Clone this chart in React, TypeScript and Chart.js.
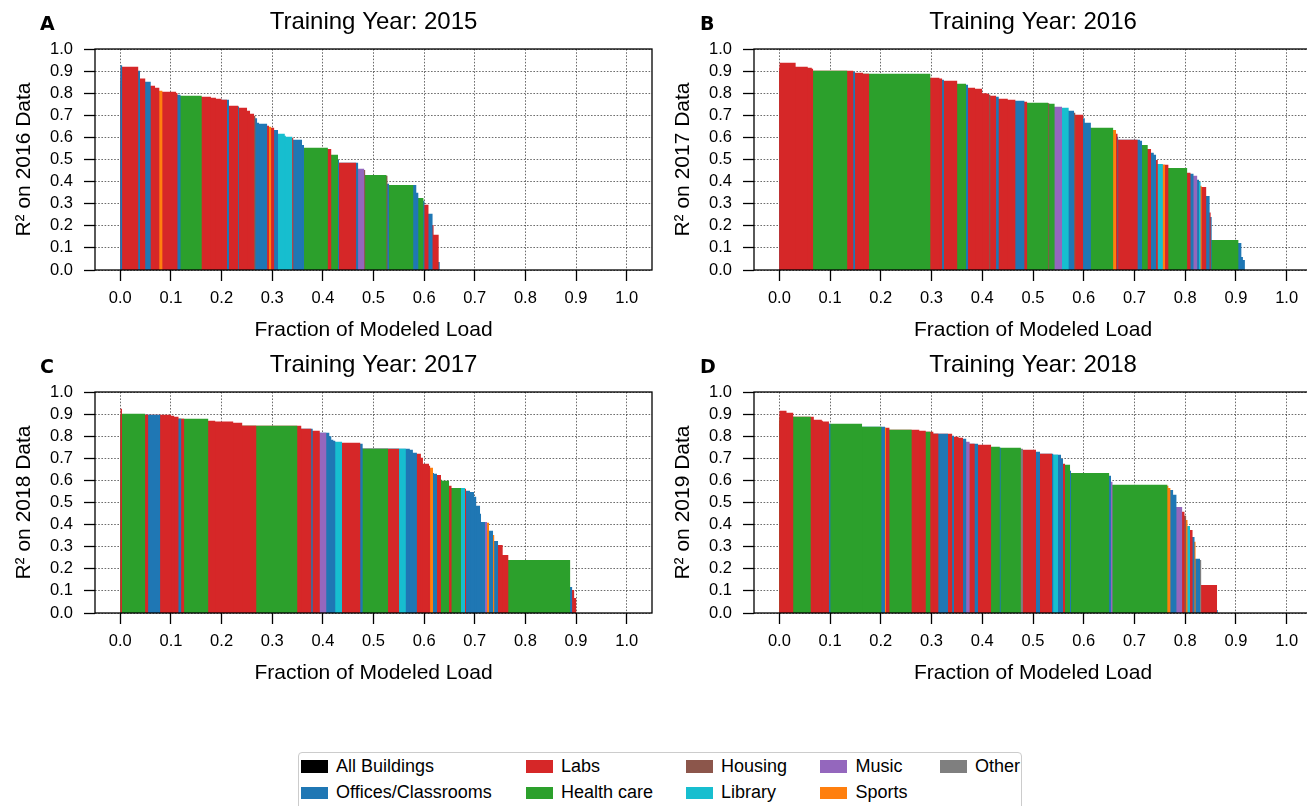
import React, { useEffect, useRef } from "react";
import { Chart, registerables } from "chart.js";

Chart.register(...registerables);

// ---------------- data ----------------
const categoryNames: Record<string, string> = {
  All: "All Buildings",
  O: "Offices/Classrooms",
  L: "Labs",
  H: "Health care",
  Ho: "Housing",
  Li: "Library",
  M: "Music",
  S: "Sports",
  Ot: "Other",
};
const categoryColors: Record<string, string> = {
  All: "#000000",
  O: "#1f77b4",
  L: "#d62728",
  H: "#2ca02c",
  Ho: "#8c564b",
  Li: "#17becf",
  M: "#9467bd",
  S: "#ff7f0e",
  Ot: "#7f7f7f",
};
// legend order (column-major, 2 rows)
const legendColumns = [["All", "O"], ["L", "H"], ["Ho", "Li"], ["M", "S"], ["Ot"]];

const xTickValues = [0, 0.1, 0.2, 0.3, 0.4, 0.5, 0.6, 0.7, 0.8, 0.9, 1.0];
const yTickValues = [0, 0.1, 0.2, 0.3, 0.4, 0.5, 0.6, 0.7, 0.8, 0.9, 1.0];

// Buildings sorted by R²; "end" = cumulative fraction of modeled load up to and including the building
// Panel A: training 2015, tested on 2016
const endA = [0.0013, 0.004, 0.0358, 0.0391, 0.0497, 0.0603, 0.0689, 0.0775, 0.0835, 0.1107, 0.1133, 0.1193, 0.161, 0.179, 0.1889, 0.2001, 0.2107, 0.2147, 0.2333, 0.2346, 0.2505, 0.2565, 0.2644, 0.2671, 0.2704, 0.2744, 0.2903, 0.2936, 0.2982, 0.3042, 0.3115, 0.325, 0.327, 0.34, 0.342, 0.359, 0.363, 0.41, 0.417, 0.43, 0.432, 0.466, 0.47, 0.482, 0.484, 0.526, 0.528, 0.531, 0.579, 0.585, 0.589, 0.599, 0.601, 0.609, 0.617, 0.619, 0.629, 0.631];
const r2A = [0.949, 0.926, 0.92, 0.902, 0.866, 0.852, 0.834, 0.825, 0.811, 0.807, 0.801, 0.793, 0.789, 0.784, 0.779, 0.775, 0.77, 0.77, 0.743, 0.74, 0.734, 0.721, 0.707, 0.698, 0.687, 0.666, 0.662, 0.653, 0.648, 0.644, 0.634, 0.616, 0.607, 0.603, 0.598, 0.589, 0.566, 0.553, 0.548, 0.521, 0.498, 0.485, 0.485, 0.458, 0.453, 0.43, 0.426, 0.39, 0.385, 0.385, 0.349, 0.326, 0.313, 0.295, 0.254, 0.204, 0.159, 0.036];
const typeA = ["O", "O", "L", "O", "L", "O", "L", "L", "S", "L", "L", "O", "H", "L", "L", "L", "L", "O", "L", "O", "L", "L", "L", "Ho", "O", "O", "O", "L", "S", "L", "O", "Li", "Li", "Li", "L", "O", "O", "H", "L", "H", "O", "L", "O", "M", "Ho", "H", "Ho", "O", "H", "O", "O", "H", "O", "L", "O", "L", "L", "O"];

// Panel B: training 2016, tested on 2017
const endB = [0.0007, 0.0324, 0.0562, 0.0641, 0.0668, 0.1342, 0.1461, 0.1494, 0.1652, 0.1771, 0.2981, 0.3159, 0.3212, 0.3245, 0.351, 0.3681, 0.3721, 0.386, 0.3999, 0.4104, 0.4137, 0.4164, 0.4276, 0.4327, 0.4505, 0.4657, 0.4835, 0.4888, 0.5304, 0.5323, 0.5429, 0.5574, 0.5706, 0.5812, 0.5838, 0.599, 0.6023, 0.6142, 0.6584, 0.6637, 0.667, 0.6683, 0.7066, 0.7112, 0.7152, 0.7264, 0.733, 0.7383, 0.7429, 0.7462, 0.7561, 0.7607, 0.7673, 0.8043, 0.8109, 0.8168, 0.8241, 0.8274, 0.8307, 0.8327, 0.8419, 0.8485, 0.8505, 0.8525, 0.9053, 0.9112, 0.9139, 0.9178];
const r2B = [0.956, 0.938, 0.92, 0.915, 0.911, 0.902, 0.902, 0.897, 0.893, 0.888, 0.888, 0.87, 0.866, 0.861, 0.856, 0.843, 0.838, 0.825, 0.82, 0.8, 0.796, 0.793, 0.789, 0.784, 0.775, 0.77, 0.766, 0.761, 0.757, 0.755, 0.752, 0.739, 0.734, 0.721, 0.711, 0.702, 0.687, 0.666, 0.644, 0.634, 0.616, 0.603, 0.589, 0.589, 0.585, 0.566, 0.548, 0.53, 0.521, 0.498, 0.48, 0.476, 0.476, 0.462, 0.44, 0.435, 0.426, 0.408, 0.399, 0.381, 0.376, 0.335, 0.26, 0.24, 0.136, 0.122, 0.059, 0.045];
const typeB = ["O", "L", "L", "L", "L", "H", "L", "O", "L", "L", "H", "L", "L", "O", "L", "H", "O", "L", "L", "L", "L", "Ho", "L", "O", "L", "L", "O", "L", "H", "Ho", "H", "M", "Li", "O", "Ho", "L", "O", "O", "H", "S", "L", "O", "L", "O", "O", "H", "L", "O", "O", "L", "Li", "S", "L", "H", "L", "O", "M", "O", "Li", "S", "L", "O", "L", "O", "H", "O", "O", "O"];

// Panel C: training 2017, tested on 2018
const endC = [0.0033, 0.0494, 0.0554, 0.0791, 0.1002, 0.1068, 0.1153, 0.1206, 0.1265, 0.174, 0.1878, 0.2234, 0.2412, 0.2689, 0.3499, 0.3578, 0.3776, 0.3802, 0.3941, 0.4072, 0.4132, 0.4171, 0.4211, 0.425, 0.438, 0.4743, 0.4789, 0.529, 0.5508, 0.564, 0.5719, 0.5779, 0.5858, 0.5937, 0.5977, 0.6096, 0.6122, 0.6175, 0.6195, 0.6254, 0.6333, 0.6353, 0.6492, 0.6545, 0.6729, 0.6809, 0.6828, 0.6908, 0.6987, 0.7033, 0.7106, 0.7125, 0.7205, 0.7244, 0.7284, 0.7363, 0.7389, 0.7462, 0.7554, 0.7667, 0.8888, 0.8927, 0.8967, 0.9007];
const r2C = [0.924, 0.902, 0.897, 0.897, 0.897, 0.893, 0.888, 0.879, 0.879, 0.879, 0.87, 0.866, 0.861, 0.847, 0.847, 0.847, 0.834, 0.834, 0.825, 0.816, 0.816, 0.8, 0.784, 0.779, 0.775, 0.77, 0.766, 0.743, 0.743, 0.743, 0.743, 0.739, 0.725, 0.721, 0.702, 0.675, 0.666, 0.657, 0.634, 0.63, 0.625, 0.603, 0.598, 0.576, 0.566, 0.566, 0.562, 0.553, 0.548, 0.526, 0.485, 0.449, 0.412, 0.412, 0.408, 0.372, 0.353, 0.326, 0.308, 0.263, 0.24, 0.118, 0.104, 0.068];
const typeC = ["L", "H", "L", "O", "L", "L", "L", "O", "L", "H", "L", "L", "L", "L", "H", "L", "L", "O", "L", "M", "O", "O", "O", "O", "Li", "L", "O", "H", "L", "Li", "O", "O", "O", "L", "L", "L", "L", "S", "O", "O", "L", "H", "H", "L", "H", "Li", "L", "O", "O", "O", "O", "O", "O", "M", "S", "O", "S", "O", "L", "L", "H", "O", "L", "L"];

// Panel D: training 2018, tested on 2019
const endD = [0.0145, 0.0278, 0.0621, 0.0681, 0.0839, 0.0859, 0.0978, 0.1011, 0.1633, 0.2016, 0.2082, 0.2102, 0.2174, 0.2611, 0.2763, 0.2888, 0.2981, 0.304, 0.3139, 0.3325, 0.341, 0.3443, 0.3536, 0.3622, 0.3688, 0.3754, 0.3853, 0.3919, 0.4177, 0.4347, 0.4366, 0.4762, 0.4802, 0.5059, 0.5139, 0.5376, 0.5403, 0.5495, 0.5554, 0.5594, 0.5634, 0.5733, 0.5752, 0.6505, 0.6538, 0.6571, 0.7653, 0.7673, 0.7713, 0.7766, 0.7832, 0.7944, 0.799, 0.8023, 0.805, 0.8096, 0.8149, 0.8188, 0.8208, 0.8294, 0.832, 0.863, 0.8644];
const r2D = [0.915, 0.906, 0.888, 0.888, 0.875, 0.87, 0.866, 0.856, 0.856, 0.843, 0.843, 0.838, 0.838, 0.829, 0.829, 0.825, 0.82, 0.82, 0.811, 0.811, 0.811, 0.802, 0.798, 0.793, 0.789, 0.775, 0.766, 0.766, 0.761, 0.752, 0.748, 0.748, 0.743, 0.739, 0.73, 0.721, 0.721, 0.716, 0.716, 0.698, 0.675, 0.671, 0.644, 0.634, 0.621, 0.594, 0.58, 0.576, 0.566, 0.557, 0.535, 0.48, 0.458, 0.44, 0.421, 0.394, 0.376, 0.344, 0.322, 0.245, 0.24, 0.127, 0.014];
const typeD = ["L", "L", "H", "L", "L", "L", "L", "O", "H", "H", "O", "S", "L", "H", "L", "L", "H", "L", "L", "O", "L", "O", "L", "L", "O", "M", "L", "O", "L", "H", "O", "H", "Ot", "L", "O", "L", "O", "Li", "O", "O", "L", "H", "O", "H", "O", "M", "H", "S", "S", "O", "O", "M", "L", "Ho", "S", "Li", "L", "O", "S", "O", "Ot", "L", "O"];

// ---------------- layout / style ----------------
const FONT = "'Liberation Sans', Arial, Helvetica, sans-serif";
const CANVAS_W = 660;
const CANVAS_H = 343;

const panels = [
  { key: "A", title: "Training Year: 2015", ylabel: "R² on 2016 Data", ends: endA, r2: r2A, types: typeA, left: 0, top: 0, padRight: 8, letterX: 40 },
  { key: "B", title: "Training Year: 2016", ylabel: "R² on 2017 Data", ends: endB, r2: r2B, types: typeB, left: 659, top: 0, padRight: 7, letterX: 700 },
  { key: "C", title: "Training Year: 2017", ylabel: "R² on 2018 Data", ends: endC, r2: r2C, types: typeC, left: 0, top: 343, padRight: 8, letterX: 40 },
  { key: "D", title: "Training Year: 2018", ylabel: "R² on 2019 Data", ends: endD, r2: r2D, types: typeD, left: 659, top: 343, padRight: 7, letterX: 700 },
];

const framePlugin = {
  id: "frame",
  afterDraw(chart: any) {
    const { ctx, chartArea: a } = chart;
    ctx.save();
    ctx.strokeStyle = "#000";
    ctx.lineWidth = 1.3;
    ctx.strokeRect(a.left, a.top, a.right - a.left, a.bottom - a.top);
    ctx.restore();
  },
};

function gridOpts() {
  return {
    display: true,
    drawOnChartArea: true,
    drawTicks: true,
    color: "rgba(0,0,0,0.72)",
    lineWidth: 0.8,
    tickLength: 11,
    tickColor: "#000",
    tickWidth: 1.3,
    tickBorderDash: [],
  };
}

// In Chart.js 4 the grid-line dash pattern lives in `border.dash`
function borderOpts() {
  return { display: false, dash: [1.6, 1.6], dashOffset: 0 };
}

function Panel({ p }: { p: any }) {
  const ref = useRef<HTMLCanvasElement | null>(null);
  useEffect(() => {
    if (!ref.current) return;
    // Each building is a filled step from the axis origin to its cumulative load end.
    // Dataset 0 (highest R²) is drawn last, so each building remains visible
    // exactly over its own [previous end, end] span, with no seams between them.
    const datasets = p.ends.map((end: number, i: number) => {
      const color = categoryColors[p.types[i]];
      return {
        label: categoryNames[p.types[i]],
        data: [
          { x: 0, y: p.r2[i] },
          { x: end, y: p.r2[i] },
        ],
        fill: "origin",
        backgroundColor: color,
        borderColor: "rgba(0,0,0,0)",
        borderWidth: 0,
        pointRadius: 0,
        pointHoverRadius: 0,
        tension: 0,
      };
    });
    const chart = new Chart(ref.current, {
      type: "line",
      data: { datasets },
      options: {
        animation: false,
        responsive: false,
        events: [],
        layout: { padding: { left: 0, right: p.padRight, top: 0, bottom: 0 } },
        plugins: {
          legend: { display: false },
          tooltip: { enabled: false },
          title: {
            display: true,
            text: p.title,
            fullSize: false,
            color: "#000",
            font: { family: FONT, size: 24, weight: "normal" },
            padding: { top: 8.1, bottom: 12.1 },
          },
        },
        scales: {
          x: {
            type: "linear",
            min: -0.05,
            max: 1.05,
            z: 1,
            afterBuildTicks: (s: any) => {
              s.ticks = xTickValues.map((v) => ({ value: v }));
            },
            afterFit: (s: any) => {
              s.height = 73;
            },
            ticks: {
              autoSkip: false,
              maxRotation: 0,
              padding: 7.5,
              color: "#000",
              font: { family: FONT, size: 16.5 },
              callback: (v: any) => Number(v).toFixed(1),
            },
            grid: gridOpts(),
            border: borderOpts(),
            title: {
              display: true,
              text: "Fraction of Modeled Load",
              color: "#000",
              font: { family: FONT, size: 21 },
              padding: { top: 0, bottom: 0.6 },
            },
          },
          y: {
            type: "linear",
            min: 0,
            max: 1,
            z: 1,
            afterBuildTicks: (s: any) => {
              s.ticks = yTickValues.map((v) => ({ value: v }));
            },
            afterFit: (s: any) => {
              s.width = 95;
            },
            ticks: {
              autoSkip: false,
              padding: 11,
              color: "#000",
              font: { family: FONT, size: 16.5 },
              callback: (v: any) => Number(v).toFixed(1),
            },
            grid: gridOpts(),
            border: borderOpts(),
            title: {
              display: true,
              text: p.ylabel,
              color: "#000",
              font: { family: FONT, size: 21 },
              padding: { top: 11.4, bottom: 0 },
            },
          },
        },
      },
      plugins: [framePlugin],
    } as any);
    return () => chart.destroy();
  }, [p]);
  return (
    <canvas
      ref={ref}
      width={CANVAS_W}
      height={CANVAS_H}
      style={{ position: "absolute", left: p.left, top: p.top, width: CANVAS_W, height: CANVAS_H }}
    />
  );
}

const legendSwatchX = [300.5, 525.5, 685.5, 820, 939.5];
const legendRowTop = [755.5, 782];

export default function App() {
  return (
    <div
      style={{
        position: "absolute",
        left: 0,
        top: 0,
        width: 1307,
        height: 806,
        overflow: "hidden",
        background: "#fff",
        fontFamily: FONT,
      }}
    >
      {panels.map((p) => (
        <Panel key={p.key} p={p} />
      ))}
      {panels.map((p) => (
        <div
          key={"lbl" + p.key}
          style={{
            position: "absolute",
            left: p.letterX,
            top: p.top + 14,
            fontFamily: "'DejaVu Sans', sans-serif",
            fontWeight: "bold",
            fontSize: 19,
            lineHeight: "19px",
            color: "#000",
          }}
        >
          {p.key}
        </div>
      ))}
      <div
        style={{
          position: "absolute",
          left: 298,
          top: 752,
          width: 724,
          height: 70,
          boxSizing: "border-box",
          border: "1.3px solid #cccccc",
          borderRadius: 4,
          background: "#fff",
        }}
      />
      {legendColumns.map((col, ci) =>
        col.map((k, ri) => (
          <div key={k} style={{ position: "absolute", left: legendSwatchX[ci], top: legendRowTop[ri], height: 20 }}>
            <div
              style={{
                position: "absolute",
                left: 0,
                top: 4.5,
                width: 27,
                height: 12.5,
                background: categoryColors[k],
              }}
            />
            <div
              style={{
                position: "absolute",
                left: 35.5,
                top: 0,
                whiteSpace: "nowrap",
                fontSize: 18,
                lineHeight: "20px",
                color: "#000",
              }}
            >
              {categoryNames[k]}
            </div>
          </div>
        ))
      )}
    </div>
  );
}
